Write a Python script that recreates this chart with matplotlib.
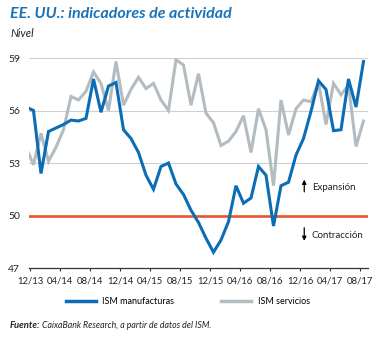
import numpy as np
import pandas as pd
import matplotlib
matplotlib.use('Agg')
import matplotlib.pyplot as plt

plt.rcParams['font.family'] = ['Lato', 'DejaVu Sans']

# Monthly data, Nov 2013 .. Aug 2017
months = pd.period_range('2013-11', '2017-08', freq='M')
manufacturas = [56.2, 56.0,
                52.4, 54.8, 55.0, 55.2, 55.45, 55.4, 55.55, 57.8, 55.9, 57.4, 57.6, 54.9,
                54.4, 53.6, 52.3, 51.5, 52.8, 53.0, 51.8, 51.2, 50.3, 49.6, 48.7, 47.9,
                48.6, 49.65, 51.7, 50.7, 51.0, 52.8, 52.3, 49.4, 51.7, 51.9, 53.45, 54.4,
                55.95, 57.7, 57.2, 54.85, 54.9, 57.8, 56.2, 58.8]
servicios = [53.9, 52.9,
             54.7, 53.1, 53.9, 54.9, 56.8, 56.6, 57.1, 58.2, 57.55, 56.0, 58.8, 56.3,
             57.2, 57.9, 57.25, 57.55, 56.6, 56.0, 58.9, 58.6, 56.3, 58.1, 55.85, 55.3,
             54.0, 54.25, 54.8, 55.7, 53.6, 56.1, 54.9, 51.7, 56.6, 54.6, 56.1, 56.6,
             56.5, 57.6, 55.2, 57.55, 56.9, 57.45, 53.95, 55.4]
tick_labels = ['12/13', '04/14', '08/14', '12/14', '04/15', '08/15',
               '12/15', '04/16', '08/16', '12/16', '04/17', '08/17']
y_ticks = [47, 50, 53, 56, 59]

blue = '#0b6db5'
gray = '#b3bcc1'
red = '#e8542c'
title_blue = '#1a72b8'

x = np.arange(len(months)) - 1  # Dec 2013 -> 0

fig = plt.figure(figsize=(3.8, 3.38), dpi=100)
ax = fig.add_axes([29.3 / 380, 1 - 268 / 338, (368 - 29.3) / 380, 210 / 338])

for yv in y_ticks[1:]:
    if yv != 50:
        ax.axhline(yv, color='#cfcfcf', lw=0.8, zorder=1)
ax.axhline(50, color=red, lw=1.9, zorder=2)

ax.plot(x, servicios, color=gray, lw=2.2, zorder=3, solid_joinstyle='miter')
ax.plot(x, manufacturas, color=blue, lw=2.2, zorder=4, solid_joinstyle='miter')

ax.set_xlim(-0.56, 44.6)
ax.set_ylim(47, 59)
tick_pos = [i * 4 - 0.47 for i in range(len(tick_labels))]
ax.set_xticks(tick_pos)
ax.set_xticklabels(tick_labels, fontsize=6.8, color='#222222')
ax.set_yticks(y_ticks)
ax.set_yticklabels([str(v) for v in y_ticks], fontsize=7.5, color='#222222')
ax.tick_params(axis='y', length=0, pad=6.5)
ax.tick_params(axis='x', length=2.2, width=0.8, color='#333333', pad=4, direction='out')
for s in ['top', 'right', 'left']:
    ax.spines[s].set_visible(False)
ax.spines['bottom'].set_color('#333333')
ax.spines['bottom'].set_linewidth(0.9)

# Expansion / contraction annotations
arrow_kw = dict(arrowstyle='-|>', color='black', lw=0.9, mutation_scale=6,
                shrinkA=0, shrinkB=0)
ax.annotate('', xy=(36.1, 52.05), xytext=(36.1, 51.35), arrowprops=arrow_kw)
ax.text(37.1, 51.6, 'Expansión', fontsize=7, va='center', ha='left', color='#222222')
ax.annotate('', xy=(36.1, 48.55), xytext=(36.1, 49.3), arrowprops=arrow_kw)
ax.text(37.1, 48.85, 'Contracción', fontsize=7, va='center', ha='left', color='#222222')

# Title / subtitle
fig.text(10 / 380, 1 - 14.5 / 338, 'EE. UU.: indicadores de actividad', fontsize=11.5,
         fontweight='bold', fontstyle='italic', color=title_blue, va='center', ha='left')
fig.text(10 / 380, 1 - 33.3 / 338, 'Nivel', fontsize=8, fontstyle='italic',
         color='#222222', va='center', ha='left')

# Legend
leg = fig.legend(['ISM manufacturas', 'ISM servicios'], loc='center',
                 bbox_to_anchor=(188 / 380, 1 - 301.7 / 338), ncol=2, frameon=False,
                 fontsize=6.5, handlelength=3.3, handletextpad=0.72, columnspacing=5.2)
for h, c in zip(leg.legend_handles, [blue, gray]):
    h.set_color(c)
    h.set_linewidth(2.5)

# Source
t1 = fig.text(10 / 380, 1 - 326 / 338, 'Fuente:', fontsize=6.8, fontweight='bold',
              fontstyle='italic', color='#222222', va='center', ha='left')
fig.text(0, 0, ' CaixaBank Research, a partir de datos del ISM.', fontsize=6.3,
         fontstyle='italic', color='#222222', va='center', ha='left')
fig.canvas.draw()
bb = t1.get_window_extent()
fig.texts[-1].set_position((bb.x1 / fig.bbox.width, 1 - 326 / 338))

fig.savefig('out.png', dpi=100)
